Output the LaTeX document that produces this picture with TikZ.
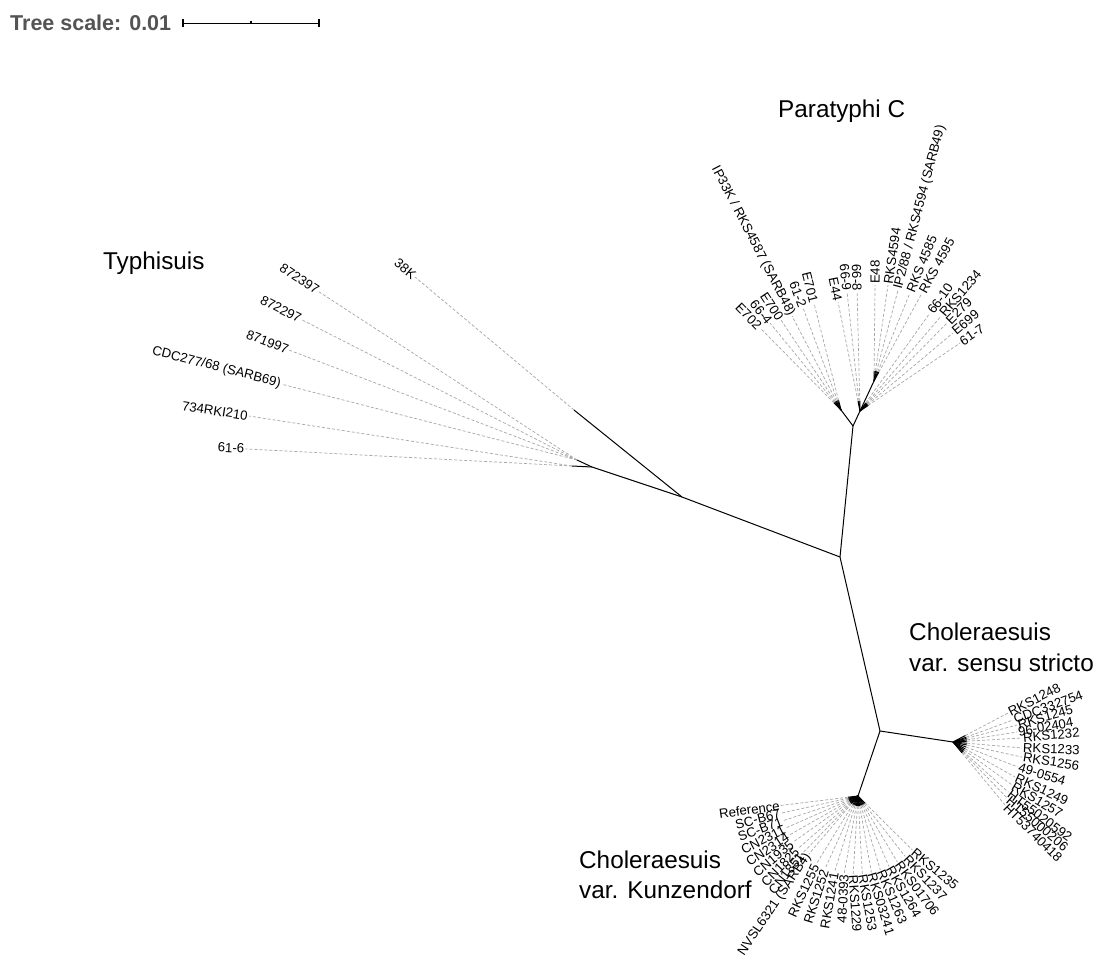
\documentclass[tikz,border=0pt]{standalone}
\usepackage{fontspec}
\setmainfont{Liberation Sans}
\usetikzlibrary{calc}
\tikzset{
  branch/.style={line width=1pt, black},
  leafline/.style={line width=0.7pt, black!35, dash pattern=on 3pt off 2pt},
  leaflab/.style={font=\fontsize{13.2}{15}\selectfont, inner sep=1pt},
  cladelab/.style={font=\fontsize{24.3}{29}\selectfont, inner sep=0pt, anchor=base west},
  scaletxt/.style={font=\bfseries\fontsize{21.5}{25}\selectfont, text=black!67, inner sep=0pt, anchor=base west},
  scalebar/.style={line width=1.2pt, black},
}
\def\blk{0pt}
% #1 name, #2 hub, #3 centre of label arc, #4 angle, #5 radius, #6 text
\newcommand\leaf[6]{%
  \pgfmathtruncatemacro\lfside{cos(#4)+0.0001>0 ? 1 : 0}%
  \ifnum\lfside=1
    \node[leaflab, anchor=west, rotate=#4] (#1) at ($(#3)+(#4:#5)$) {#6};
    \coordinate (#1-t) at ($(#2)!\blk!(#1.west)$);
    \draw[leafline] (#1-t) -- (#1.west);
  \else
    \node[leaflab, anchor=east, rotate=#4-180] (#1) at ($(#3)+(#4:#5)$) {#6};
    \coordinate (#1-t) at ($(#2)!\blk!(#1.east)$);
    \draw[leafline] (#1-t) -- (#1.east);
  \fi
  \draw[branch] (#2) -- (#1-t);
}
\begin{document}
\begin{tikzpicture}[x=1pt,y=1pt]
\useasboundingbox (0,0) rectangle (1096,-956);
\fill[white] (0,0) rectangle (1096,-956);

% tree scale
\node[scaletxt] (ts) at (10,-30.5) {Tree scale: 0.01};
\coordinate (sbL) at (183,-23.3);
\coordinate (sbR) at (319,-23.3);
\coordinate (sbM) at (251,-23.3);
\draw[scalebar] (sbL) -- (sbR);
\draw[scalebar] ($(sbL)+(0,4)$) -- ($(sbL)+(0,-4)$);
\draw[scalebar] ($(sbR)+(0,4)$) -- ($(sbR)+(0,-4)$);
\draw[scalebar] ($(sbM)+(0,2.6)$) -- (sbM);

% internal nodes
\coordinate (C0) at (840,-557);
\coordinate (T1) at (682,-497);
\coordinate (T38) at (574,-410);
\coordinate (T2) at (592,-467);
\coordinate (T2a) at (577,-460);
\coordinate (T2b) at (572,-466);
\coordinate (P0) at (853,-426);
\coordinate (PL) at (841,-410);
\coordinate (PR) at (860,-411);
\coordinate (PRa) at (874,-381);
\coordinate (C1) at (880,-731);
\coordinate (SS) at (953,-742);
\coordinate (SC) at (945,-745);
\coordinate (K) at (858,-796);
\coordinate (KC) at (848,-796);

\draw[branch] (C0) -- (T1);
\draw[branch] (T1) -- (T38);
\draw[branch] (T1) -- (T2);
\draw[branch] (T2) -- (T2a);
\draw[branch] (T2) -- (T2b);
\draw[branch] (C0) -- (P0);
\draw[branch] (P0) -- (PL);
\draw[branch] (P0) -- (PR);
\draw[branch] (PR) -- (PRa);
\draw[branch] (C0) -- (C1);
\draw[branch] (C1) -- (SS);
\draw[branch] (C1) -- (K);

% Typhisuis
\def\blk{0pt}
\leaf{t1}{T2b}{T2b}{177.0}{327}{61-6}
\leaf{t2}{T2b}{T2b}{171.2}{327}{734RKI210}
\leaf{t3}{T2a}{T2a}{165.6}{305}{CDC277/68 (SARB69)}
\leaf{t4}{T2a}{T2a}{159.1}{308}{871997}
\leaf{t5}{T2a}{T2a}{153.0}{309}{872297}
\leaf{t6}{T2a}{T2a}{146.9}{308}{872397}
\leaf{t7}{T38}{T38}{140.1}{207}{38K}

% Paratyphi C
\def\blk{10pt}
\leaf{p1}{PL}{PL}{134.6}{115}{E702}
\leaf{p2}{PL}{PL}{129.2}{112}{66-4}
\leaf{p3}{PL}{PL}{123.7}{108}{E700}
\leaf{p4}{PL}{PL}{117.5}{106}{IP33K / RKS4587 (SARB48)}
\leaf{p5}{PL}{PL}{110.4}{109}{61-2}
\leaf{p6}{PL}{PL}{104.2}{110}{E701}
\leaf{p7}{PR}{PR}{101.4}{111}{E44}
\leaf{p8}{PR}{PR}{96.2}{120}{66-9}
\leaf{p9}{PR}{PR}{91.4}{119}{66-8}
\leaf{p10}{PRa}{PRa}{89.4}{96}{E48}
\leaf{p11}{PRa}{PRa}{81.7}{97}{RKS4594}
\leaf{p12}{PRa}{PRa}{75.2}{94}{IP2/88 / RKS4594 (SARB49)}
\leaf{p13}{PRa}{PRa}{67.8}{95}{RKS 4585}
\leaf{p14}{PRa}{PRa}{61.4}{100}{RKS 4595}
\leaf{p15}{PR}{PR}{54.5}{120}{66-10}
\leaf{p16}{PR}{PR}{49.5}{125}{RKS1234}
\leaf{p17}{PR}{PR}{45.3}{124}{E279}
\leaf{p18}{PR}{PR}{40.0}{121}{E699}
\leaf{p19}{PR}{PR}{34.2}{121}{61-7}

% Choleraesuis sensu stricto
\def\blk{14pt}
\leaf{s1}{SS}{SC}{26.9}{70.7}{RKS1248}
\leaf{s2}{SS}{SC}{20.2}{72.4}{CDC332754}
\leaf{s3}{SS}{SC}{15.5}{74.7}{RKS1245}
\leaf{s4}{SS}{SC}{10.2}{73.2}{96-02404}
\leaf{s5}{SS}{SC}{5.2}{77.3}{RKS1232}
\leaf{s6}{SS}{SC}{-2.2}{77}{RKS1233}
\leaf{s7}{SS}{SC}{-8.9}{78}{RKS1256}
\leaf{s8}{SS}{SC}{-16.8}{76}{49-0554}
\leaf{s9}{SS}{SC}{-24.6}{77}{RKS1249}
\leaf{s10}{SS}{SC}{-30.8}{78}{RKS1257}
\leaf{s11}{SS}{SC}{-36.7}{79}{HT55020592}
\leaf{s12}{SS}{SC}{-40.5}{82}{HT55000206}
\leaf{s13}{SS}{SC}{-45}{85}{HT53740418}

% Choleraesuis Kunzendorf
\def\blk{10pt}
\leaf{k0}{K}{KC}{188.0}{68.0}{Reference}
\leaf{k1}{K}{KC}{194.4}{68.8}{SC-B67}
\leaf{k2}{K}{KC}{200.8}{69.6}{SC-B71}
\leaf{k3}{K}{KC}{207.2}{70.4}{CN2311}
\leaf{k4}{K}{KC}{213.6}{71.2}{CN2314}
\leaf{k5}{K}{KC}{220.0}{72.0}{CN1935}
\leaf{k6}{K}{KC}{226.4}{72.8}{CN1825}
\leaf{k7}{K}{KC}{231.5}{73.6}{CN1851}
\leaf{k8}{K}{KC}{236.0}{70.0}{NVSL6321 (SARB4)}
\leaf{k9}{K}{KC}{245.0}{75.2}{RKS1255}
\leaf{k10}{K}{KC}{252.5}{76.0}{RKS1252}
\leaf{k11}{K}{KC}{260.0}{76.8}{RKS1241}
\leaf{k12}{K}{KC}{267.2}{77.6}{48-0393}
\leaf{k13}{K}{KC}{273.8}{78.4}{RKS1229}
\leaf{k14}{K}{KC}{280.4}{79.2}{RKS1253}
\leaf{k15}{K}{KC}{287.0}{80.0}{RKS03241}
\leaf{k16}{K}{KC}{293.6}{80.8}{RKS1263}
\leaf{k17}{K}{KC}{300.2}{81.6}{RKS1264}
\leaf{k18}{K}{KC}{306.8}{82.4}{RKS01706}
\leaf{k19}{K}{KC}{313.4}{83.2}{RKS1237}
\leaf{k20}{K}{KC}{320.0}{84.0}{RKS1235}

% clade labels
\node[cladelab] (cPara) at (778,-117.5) {Paratyphi C};
\node[cladelab] (cTyph) at (103,-269.5) {Typhisuis};
\node[cladelab] (cCS1) at (909,-640) {Choleraesuis};
\node[cladelab] (cCS2) at (909,-671) {var. sensu stricto};
\node[cladelab] (cCK1) at (579,-868) {Choleraesuis};
\node[cladelab] (cCK2) at (579,-898) {var. Kunzendorf};
\end{tikzpicture}
\end{document}
